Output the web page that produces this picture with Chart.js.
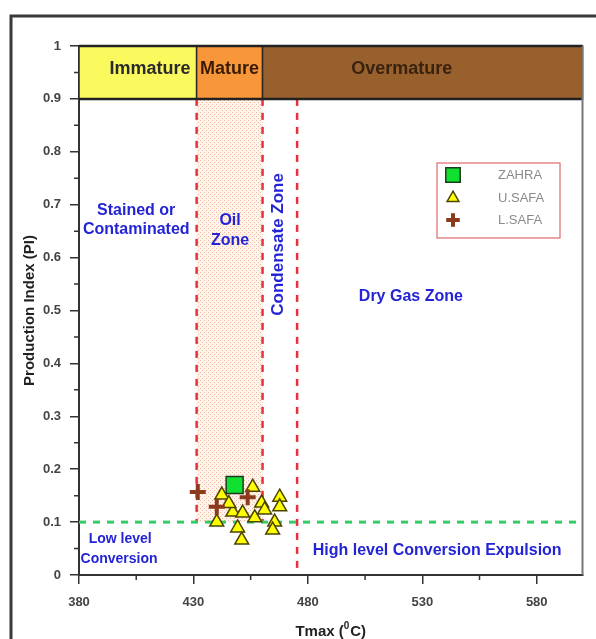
<!DOCTYPE html>
<html>
<head>
<meta charset="utf-8">
<script src="https://cdn.jsdelivr.net/npm/chart.js@4.4.0/dist/chart.umd.min.js"></script>
<style>
  html, body { margin: 0; padding: 0; background: #fff; }
  #wrap { width: 596px; height: 639px; }
</style>
</head>
<body>
<div id="wrap"><canvas id="pi_canvas_id" width="596" height="639"></canvas></div>
<script>
// series names and values (Tmax in degC, PI)
var seriesNames = ['ZAHRA', 'U.SAFA', 'L.SAFA'];
var zahraTmax = [448];
var zahraPI = [0.170];
var usafaTmax = [442.4, 455.9, 440.2, 447.2, 451.5, 449.3, 451.1, 456.8, 459.8, 461.1, 467.7, 467.7, 465.5, 464.6, 445.5];
var usafaPI = [0.151, 0.166, 0.100, 0.119, 0.117, 0.089, 0.066, 0.108, 0.136, 0.123, 0.147, 0.129, 0.100, 0.085, 0.135];
var lsafaTmax = [431.9, 440.2, 453.7];
var lsafaPI = [0.157, 0.129, 0.147];

// axes
var xTicks = [380, 430, 480, 530, 580];
var yTicks = [0, 0.1, 0.2, 0.3, 0.4, 0.5, 0.6, 0.7, 0.8, 0.9, 1];
var xMinor = [405, 455, 505, 555];
var yMinor = [0.05, 0.15, 0.25, 0.35, 0.45, 0.55, 0.65, 0.75, 0.85, 0.95];

// maturity band at the top and zone limits
var stageNames = ['Immature', 'Mature', 'Overmature'];
var stageBounds = [380, 431.4, 460.2, 600];
var zoneLimits = [431.4, 460.2, 475.3];
var conversionPI = 0.1;

function toPts(xs, ys) {
    var out = [];
    for (var i = 0; i < xs.length; i++) out.push({x: xs[i], y: ys[i]});
    return out;
}

var FONT = "'Liberation Sans', Arial, sans-serif";
var BLUE = '#2424d6';

// dotted fill for the oil window
var patCanvas = document.createElement('canvas');
patCanvas.width = 4; patCanvas.height = 4;
var pg = patCanvas.getContext('2d');
pg.fillStyle = '#fdf4ec'; pg.fillRect(0, 0, 4, 4);
pg.fillStyle = '#f0b8a0'; pg.fillRect(0, 0, 1, 1); pg.fillRect(2, 2, 1, 1);

var markerStyles = [
    {pointStyle: 'rect', radius: 12, bg: '#10e030', border: '#1d3a1d', bw: 1.5},
    {pointStyle: 'triangle', radius: 8, bg: '#ffff00', border: '#4a4400', bw: 1.5},
    {pointStyle: 'cross', radius: 8, bg: '#8b3a1e', border: '#8b3a1e', bw: 4}
];

var decor = {
    id: 'decor',
    beforeDraw: function(chart) {
        var ctx = chart.ctx;
        ctx.save();
        ctx.fillStyle = '#fff';
        ctx.fillRect(0, 0, chart.width, chart.height);
        // outer frame
        ctx.strokeStyle = '#3a3a3a';
        ctx.lineWidth = 3;
        ctx.beginPath();
        ctx.moveTo(11, chart.height);
        ctx.lineTo(11, 16);
        ctx.lineTo(chart.width, 16);
        ctx.stroke();
        ctx.restore();
    },
    beforeDatasetsDraw: function(chart) {
        var ctx = chart.ctx, xs = chart.scales.x, ys = chart.scales.y;
        var X = function(v) { return xs.getPixelForValue(v); };
        var Y = function(v) { return ys.getPixelForValue(v); };
        ctx.save();
        // oil window shading
        ctx.fillStyle = ctx.createPattern(patCanvas, 'repeat');
        ctx.fillRect(X(zoneLimits[0]), Y(0.9), X(zoneLimits[1]) - X(zoneLimits[0]), Y(conversionPI) - Y(0.9));

        // red dashed zone limits
        ctx.strokeStyle = '#e8303c';
        ctx.lineWidth = 2.5;
        ctx.setLineDash([7, 7]);
        for (var i = 0; i < zoneLimits.length; i++) {
            var bottom = i < 2 ? conversionPI : 0;
            ctx.beginPath();
            ctx.moveTo(X(zoneLimits[i]), Y(0.9));
            ctx.lineTo(X(zoneLimits[i]), Y(bottom));
            ctx.stroke();
        }
        // green conversion line
        ctx.strokeStyle = '#33cc66';
        ctx.lineWidth = 3;
        ctx.setLineDash([7, 7]);
        ctx.beginPath();
        ctx.moveTo(X(380), Y(conversionPI));
        ctx.lineTo(X(600), Y(conversionPI));
        ctx.stroke();
        ctx.setLineDash([]);

        // maturity band
        var bandColors = ['#fafa5e', '#f8963a', '#98602c'];
        var bandText = ['#2a2a2a', '#3a1c04', '#3a2210'];
        var labelAt = [411, 445.8, 521];
        for (var k = 0; k < stageNames.length; k++) {
            var x0 = X(stageBounds[k]), x1 = X(stageBounds[k + 1]);
            ctx.fillStyle = bandColors[k];
            ctx.fillRect(x0, Y(1), x1 - x0, Y(0.9) - Y(1));
            ctx.strokeStyle = '#2a2a2a';
            ctx.lineWidth = 1.5;
            ctx.strokeRect(x0, Y(1), x1 - x0, Y(0.9) - Y(1));
            ctx.fillStyle = bandText[k];
            ctx.font = 'bold 18px ' + FONT;
            ctx.textAlign = 'center';
            ctx.textBaseline = 'middle';
            ctx.fillText(stageNames[k], X(labelAt[k]), Y(0.957));
        }
        ctx.strokeStyle = '#222';
        ctx.lineWidth = 2.5;
        ctx.beginPath();
        ctx.moveTo(X(380), Y(1)); ctx.lineTo(X(600), Y(1));
        ctx.moveTo(X(380), Y(0.9)); ctx.lineTo(X(600), Y(0.9));
        ctx.stroke();

        // zone labels
        var notes = [
            ['Stained or', 405, 0.689, 16], ['Contaminated', 405, 0.652, 16],
            ['Oil', 446, 0.670, 16], ['Zone', 446, 0.632, 16],
            ['Dry Gas Zone', 525, 0.526, 16],
            ['Low level', 398, 0.068, 14], ['Conversion', 397.5, 0.030, 14],
            ['High level Conversion Expulsion', 536.5, 0.046, 16]
        ];
        ctx.fillStyle = BLUE;
        ctx.textAlign = 'center';
        ctx.textBaseline = 'middle';
        notes.forEach(function(n) {
            ctx.font = 'bold ' + n[3] + 'px ' + FONT;
            ctx.fillText(n[0], X(n[1]), Y(n[2]));
        });
        ctx.save();
        ctx.font = 'bold 17px ' + FONT;
        ctx.translate(X(467.3), Y(0.625));
        ctx.rotate(-Math.PI / 2);
        ctx.fillText('Condensate Zone', 0, 0);
        ctx.restore();
        ctx.restore();
    },
    afterDraw: function(chart) {
        var ctx = chart.ctx, xs = chart.scales.x, ys = chart.scales.y, a = chart.chartArea;
        ctx.save();
        // right plot frame
        ctx.strokeStyle = '#777';
        ctx.lineWidth = 2;
        ctx.beginPath();
        ctx.moveTo(a.right, a.top);
        ctx.lineTo(a.right, a.bottom);
        ctx.stroke();
        // minor ticks
        ctx.strokeStyle = '#333';
        ctx.lineWidth = 1.5;
        ctx.beginPath();
        xMinor.forEach(function(v) {
            var p = xs.getPixelForValue(v);
            ctx.moveTo(p, a.bottom); ctx.lineTo(p, a.bottom + 5);
        });
        yMinor.forEach(function(v) {
            var p = ys.getPixelForValue(v);
            ctx.moveTo(a.left, p); ctx.lineTo(a.left - 5, p);
        });
        ctx.stroke();

        // x axis title with superscript
        ctx.fillStyle = '#222';
        ctx.textBaseline = 'alphabetic';
        ctx.textAlign = 'left';
        var big = 'bold 15px ' + FONT, small = 'bold 10px ' + FONT;
        ctx.font = big; var w1 = ctx.measureText('Tmax (').width, w3 = ctx.measureText('C)').width;
        ctx.font = small; var w2 = ctx.measureText('0').width + 1;
        var cx = (a.left + a.right) / 2 - (w1 + w2 + w3) / 2, by = 636;
        ctx.font = big; ctx.fillText('Tmax (', cx, by);
        ctx.font = small; ctx.fillText('0', cx + w1, by - 7);
        ctx.font = big; ctx.fillText('C)', cx + w1 + w2, by);

        // legend
        var lx = 437, ly = 163, lw = 123, lh = 75;
        ctx.fillStyle = '#fff';
        ctx.fillRect(lx, ly, lw, lh);
        ctx.strokeStyle = '#e06a6a';
        ctx.lineWidth = 1.2;
        ctx.strokeRect(lx, ly, lw, lh);
        var rows = [175, 198, 220];
        for (var i = 0; i < seriesNames.length; i++) {
            var s = markerStyles[i];
            ctx.fillStyle = s.bg;
            ctx.strokeStyle = s.border;
            ctx.lineWidth = s.bw;
            Chart.helpers.drawPoint(ctx, {pointStyle: s.pointStyle, radius: s.radius * 0.85, borderWidth: s.bw, rotation: 0}, 453, rows[i]);
            ctx.fillStyle = '#8a8a8a';
            ctx.font = '13px ' + FONT;
            ctx.textAlign = 'left';
            ctx.textBaseline = 'middle';
            ctx.fillText(seriesNames[i], 498, rows[i]);
        }
        ctx.restore();
    }
};

var seriesX = [zahraTmax, usafaTmax, lsafaTmax];
var seriesY = [zahraPI, usafaPI, lsafaPI];
var drawOrder = [0, 2, 1];
var datasets = seriesNames.map(function(name, i) {
    var s = markerStyles[i];
    return {
        label: name,
        data: toPts(seriesX[i], seriesY[i]),
        pointStyle: s.pointStyle,
        pointRadius: s.radius,
        pointHoverRadius: s.radius,
        backgroundColor: s.bg,
        borderColor: s.border,
        borderWidth: s.bw,
        order: drawOrder[i]
    };
});

var tickFont = {family: FONT, size: 13, weight: 'bold'};

new Chart(document.getElementById('pi_canvas_id').getContext('2d'), {
    type: 'scatter',
    data: {datasets: datasets},
    options: {
        responsive: false,
        animation: false,
        layout: {padding: {top: 46, right: 12, bottom: 0, left: 0}},
        plugins: {legend: {display: false}, tooltip: {enabled: false}},
        scales: {
            x: {
                type: 'linear', min: 380, max: 600,
                afterBuildTicks: function(scale) { scale.ticks = xTicks.map(function(v) { return {value: v}; }); },
                afterFit: function(scale) { scale.height = 64; },
                grid: {display: true, drawOnChartArea: false, drawTicks: true, tickLength: 9, color: '#333', lineWidth: 1.5},
                border: {display: true, color: '#333', width: 2},
                ticks: {color: '#444', font: tickFont, padding: 11, maxRotation: 0,
                    callback: function(v) { return String(v); }},
                title: {display: false}
            },
            y: {
                type: 'linear', min: 0, max: 1,
                afterBuildTicks: function(scale) { scale.ticks = yTicks.map(function(v) { return {value: v}; }); },
                afterFit: function(scale) { scale.width = 79; },
                grid: {display: true, drawOnChartArea: false, drawTicks: true, tickLength: 9, color: '#333', lineWidth: 1.5},
                border: {display: true, color: '#333', width: 2},
                ticks: {color: '#444', font: tickFont, padding: 9,
                    callback: function(v) { return String(v); }},
                title: {display: true, text: 'Production Index (PI)', color: '#222',
                    font: {family: FONT, size: 15, weight: 'bold'}, padding: {top: 21, bottom: 0}}
            }
        }
    },
    plugins: [decor]
});
</script>
</body>
</html>
